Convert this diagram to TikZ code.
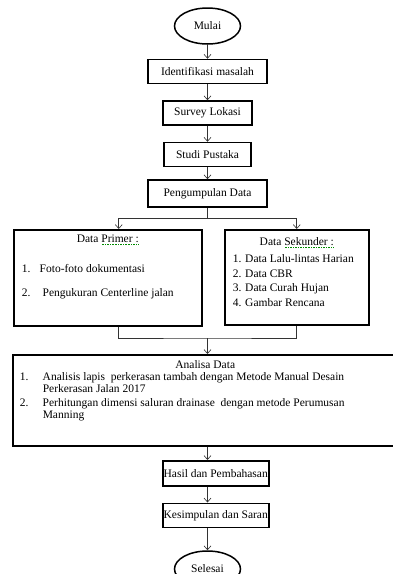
\documentclass[tikz,border=0pt]{standalone}
\usepackage{fontspec}
\setmainfont{Liberation Serif}
\usetikzlibrary{arrows.meta, positioning, shapes.geometric}

% green spell-check mark under a word
\newsavebox{\spellbox}
\newcommand{\spellmark}[1]{\sbox{\spellbox}{#1}\rlap{\textcolor{green!55!black}{\raisebox{-2.5pt}{\hbox to \wd\spellbox{\xleaders\hbox to 1.6pt{\hss\rule{0.8pt}{0.8pt}\hss}\hfill}}}}\usebox{\spellbox}}

\begin{document}
\begin{tikzpicture}[
  x=1pt, y=-1pt,
  font=\fontsize{11.5}{14}\selectfont,
  terminal/.style={ellipse, draw, line width=1.5pt, minimum width=66pt, minimum height=36pt, inner sep=0pt},
  process/.style={rectangle, draw, line width=1.5pt, minimum height=24pt, inner sep=0pt},
  flow/.style={-{Straight Barb[length=4pt,width=7pt]}, line width=0.6pt, black!80},
  link/.style={line width=0.6pt, black!80}
]
\useasboundingbox (0,0) rectangle (392,574);

\node[terminal] (mulai) at (207.5,26) {Mulai};
\node[process, minimum width=119pt, below=14pt of mulai] (ident) {Identifikasi masalah};
\node[process, minimum width=89pt, below=16pt of ident] (survey) {Survey Lokasi};
\node[process, minimum width=87pt, below=16pt of survey] (studi) {Studi Pustaka};
\node[process, minimum width=119pt, minimum height=27pt, below=12pt of studi] (kumpul) {Pengumpulan Data};

\node[process, anchor=north west] (primer) at (13,229) {\parbox[t][96pt][t]{188pt}{\vspace*{3pt}\strut\hfill Data \spellmark{Primer :}\hfill\strut\\[16pt]
  \hspace*{8pt}\makebox[18pt][l]{1.}Foto-foto dokumentasi\\[10pt]
  \hspace*{8pt}\makebox[21pt][l]{2.}Pengukuran Centerline jalan}};
\node[process, anchor=north west] (sekunder) at (224,229) {\parbox[t][95pt][t]{144pt}{\vspace*{6pt}\strut\hfill Data \spellmark{Sekunder :}\hfill\strut\\[3pt]
  \hspace*{8pt}1. Data Lalu-lintas Harian\\[0.5pt]
  \hspace*{8pt}2. Data CBR\\[0.5pt]
  \hspace*{8pt}3. Data Curah Hujan\\[0.5pt]
  \hspace*{8pt}4. Gambar Rencana}};

\node[process, anchor=north west] (analisa) at (12,354) {\parbox[t][91pt][t]{385pt}{\fontsize{11.5}{12}\selectfont\vspace*{5.6pt}\strut\hfill Analisa Data\hfill\strut\\
  \hspace*{7pt}\makebox[23pt][l]{1.}Analisis lapis\ \ perkerasan tambah dengan Metode Manual Desain\\
  \hspace*{30pt}Perkerasan Jalan 2017\\[2pt]
  \hspace*{7pt}\makebox[23pt][l]{2.}Perhitungan dimensi saluran drainase\ \ dengan metode Perumusan\\
  \hspace*{30pt}Manning}};

\node[process, minimum width=106pt, minimum height=25pt, anchor=north west] (hasil) at (162,460) {Hasil dan Pembahasan};
\node[process, minimum width=106pt, below=16pt of hasil] (kesimpulan) {Kesimpulan dan Saran};
\node[terminal] (selesai) at (207.5,569) {Selesai};

\draw[flow] (mulai) -- (ident);
\draw[flow] (ident) -- (survey);
\draw[flow] (survey) -- (studi);
\draw[flow] (studi) -- (kumpul);

\draw[link] (kumpul.south) -- ++(0,11) coordinate (split);
\draw[flow] (split) -| ([xshift=11pt]primer.north);
\draw[flow] (split) -| (sekunder.north);

\coordinate (join) at (207.5,338);
\draw[link] ([xshift=11pt]primer.south) |- (join) -| (sekunder.south);
\draw[flow] (join) -- (join |- analisa.north);

\draw[flow] (analisa.south -| mulai) -- (hasil.north -| mulai);
\draw[flow] (hasil.south -| mulai) -- (kesimpulan.north -| mulai);
\draw[flow] (kesimpulan.south -| mulai) -- (selesai);
\end{tikzpicture}
\end{document}
